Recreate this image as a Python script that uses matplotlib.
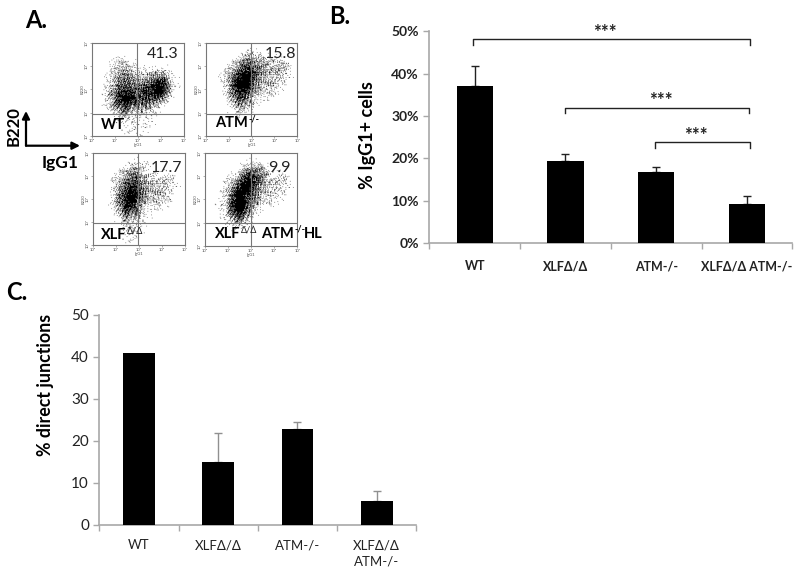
import numpy as np
import matplotlib
matplotlib.use('Agg')
import matplotlib.pyplot as plt

plt.rcParams['font.family'] = ['Lato', 'DejaVu Sans']

# panel B
groups_b = ['WT', 'XLFΔ/Δ', 'ATM-/-', 'XLFΔ/Δ ATM-/-']
igg1_pct = [37.0, 19.4, 16.7, 9.3]
igg1_err = [4.7, 1.6, 1.3, 1.7]
pct_ticks = [0, 10, 20, 30, 40, 50]
# start group, end group, level of the bracket
brackets = [(-0.015, 3.03, 48.1), (0.995, 3.02, 32.0), (1.985, 3.03, 23.8)]
star_x = [1.44, 2.05, 2.44]

# panel C
groups_c = ['WT', 'XLFΔ/Δ', 'ATM-/-', 'XLFΔ/Δ\nATM-/-']
direct_pct = [40.9, 14.9, 22.9, 5.7]
direct_err = [0, 6.9, 1.7, 2.3]
direct_ticks = [0, 10, 20, 30, 40, 50]

# panel A, darkness of the dot clouds read by eye, one digit per cell, top row first
wt_cloud = ['0000000000000000',
            '0000000000000000',
            '0000110000000000',
            '0001231100000000',
            '0001343211111000',
            '0012455333455200',
            '0012566545688310',
            '0023677667899410',
            '0024788778898300',
            '0024899878775100',
            '0013788666532000',
            '0002565343210000',
            '0000232211100000',
            '0000111211100000',
            '0000011111000000',
            '0000001110000000']
atm_cloud = ['0000000000000000',
             '0000001210000000',
             '0000013432111000',
             '0000136654332210',
             '0001358875443320',
             '0012579975333310',
             '0012699964333210',
             '0012699953332100',
             '0001588742221000',
             '0000477521100000',
             '0000255310000000',
             '0000123100000000',
             '0000010000000000',
             '0000000000000000',
             '0000000000000000',
             '0000000000000000']
xlf_cloud = ['0000000000000000',
             '0000001100000000',
             '0000012321000000',
             '0000135532111000',
             '0001246743222200',
             '0001367854333210',
             '0001479864333210',
             '0001589963333100',
             '0001589852322100',
             '0001488731111000',
             '0000366521100000',
             '0000133310000000',
             '0000023210000000',
             '0000012110000000',
             '0000011100000000',
             '0000001000000000']
dko_cloud = ['0000000000000000',
             '0000000110000000',
             '0000002343100000',
             '0000015775321100',
             '0000248986332210',
             '0001369985332210',
             '0012599974322210',
             '0012699863222100',
             '0012799752211000',
             '0012799631000000',
             '0001688410000000',
             '0001355200000000',
             '0000122100000000',
             '0000000000000000',
             '0000000000000000',
             '0000000000000000']
gate_pct = ['41.3', '15.8', '17.7', '9.9']
decades = ['10⁰', '10¹', '10²', '10³', '10⁴']

W, H = 800, 583
fig = plt.figure(figsize=(W / 100, H / 100), dpi=100)


def px_axes(x0, y0, x1, y1):
    return fig.add_axes([x0 / W, 1 - y1 / H, (x1 - x0) / W, (y1 - y0) / H])


def px_text(x, y, s, **kw):
    kw.setdefault('ha', 'left')
    kw.setdefault('va', 'center')
    fig.text(x / W, 1 - y / H, s, **kw)


def speckle(cloud, n=150):
    # ordered dither of the darkness grid so the cloud reads as dots, no random numbers
    grid = (np.array([[int(c) for c in row] for row in cloud]) / 9.0) ** 1.3
    old = (np.arange(16) + 0.5) / 16
    new = (np.arange(n) + 0.5) / n
    fine = np.array([np.interp(new, old, row) for row in grid])
    fine = np.array([np.interp(new, old, col) for col in fine.T]).T
    ii, jj = np.mgrid[0:n, 0:n]
    thresh = (ii * 0.7548777 + jj * 0.5698403 + 0.6 * np.sin(2.1 * ii * jj)) % 1.0
    return fine > thresh


def flow_panel(box, cross, cloud, xlab, ylab):
    ax = px_axes(*box)
    ax.imshow(speckle(cloud), cmap='gray_r', vmin=0, vmax=1.0, extent=[0, 4, 0, 4], aspect='auto',
              interpolation='antialiased', zorder=0)
    ax.axvline(cross[0], color='#777777', lw=0.8)
    ax.axhline(cross[1], color='#777777', lw=0.8)
    ax.set_xlim(0, 4)
    ax.set_ylim(0, 4)
    ax.set_xticks(range(5), decades)
    ax.set_yticks(range(5), decades)
    ax.tick_params(length=1.5, width=0.4, color='#777777', labelsize=3, labelcolor='#555555', pad=1)
    plt.setp(ax.get_yticklabels(), rotation=90, va='center')
    ax.set_xlabel(xlab, fontsize=3, color='#555555', labelpad=0)
    ax.set_ylabel(ylab, fontsize=3, color='#555555', labelpad=0)
    for s in ax.spines.values():
        s.set_color('#777777')
        s.set_linewidth(0.8)


flow_panel((91.7, 43.3, 183.7, 135.7), (1.95, 0.96), wt_cloud, 'IgG1', 'B220')
flow_panel((205.7, 43.3, 297.3, 135.7), (1.96, 0.96), atm_cloud, 'IgG1', 'B220')
flow_panel((92.7, 152.7, 184.7, 245), (1.96, 0.97), xlf_cloud, 'IgG1', 'B220')
flow_panel((204.7, 153, 297.3, 245.7), (1.98, 0.97), dko_cloud, 'IgG1', 'B220')

num = dict(fontsize=11.5, color='#222222', ha='center')
px_text(163, 54, gate_pct[0], **num)
px_text(280, 54, gate_pct[1], **num)
px_text(166, 168, gate_pct[2], **num)
px_text(279, 168, gate_pct[3], **num)

lab = dict(fontsize=10.5, fontweight='bold', color='black')
px_text(101, 125, 'WT', **lab)
px_text(215, 123, 'ATM', **lab)
px_text(248, 119, '-/-', fontsize=6.5, fontweight='bold')
px_text(101, 235, 'XLF', **lab)
px_text(127, 231, 'Δ/Δ', fontsize=6.5, color='#222222')
px_text(215, 234, 'XLF', **lab)
px_text(241, 230, 'Δ/Δ', fontsize=6.5, color='#222222')
px_text(261, 234, 'ATM', **lab)
px_text(294, 229, '-/-', fontsize=6.5, fontweight='bold')
px_text(304, 234, 'HL', **lab)

# B220 / IgG1 arrows
arrow = dict(arrowstyle='-|>', color='black', lw=1.6, mutation_scale=11, shrinkA=0, shrinkB=0)
fig.add_artist(matplotlib.patches.FancyArrowPatch((26 / W, 1 - 145.7 / H), (80 / W, 1 - 145.7 / H),
                                                  transform=fig.transFigure, **arrow))
fig.add_artist(matplotlib.patches.FancyArrowPatch((26 / W, 1 - 145.7 / H), (26 / W, 1 - 111 / H),
                                                  transform=fig.transFigure, **arrow))
px_text(14, 126, 'B220', fontsize=12, fontweight='bold', rotation=90, ha='center')
px_text(60, 163, 'IgG1', fontsize=12.5, fontweight='bold', ha='center')

letter = dict(fontsize=17, fontweight='bold', color='black')
px_text(25, 21, 'A.', **letter)
px_text(329, 16, 'B.', **letter)
px_text(6, 293, 'C.', **letter)


def bar_axes(box, top):
    ax = px_axes(*box)
    ax.set_xlim(-0.5, 3.5)
    ax.set_ylim(0, top)
    for s in ('top', 'right'):
        ax.spines[s].set_visible(False)
    for s in ('left', 'bottom'):
        ax.spines[s].set_color('#a8a8a8')
        ax.spines[s].set_linewidth(1.2)
    ax.set_xticks(np.arange(-0.5, 4))
    ax.set_xticklabels([])
    ax.tick_params(axis='both', color='#a8a8a8', width=1.0, length=4.5, direction='out')
    return ax


# panel B
ax_b = bar_axes((429.3, 31.3, 792.3, 243), 50)
xb = np.arange(4)
ax_b.bar(xb, igg1_pct, width=0.4, color='black', zorder=3)
ax_b.errorbar(xb, igg1_pct, yerr=[[0] * 4, igg1_err], fmt='none', ecolor='#222222', elinewidth=1.0,
              capsize=3, capthick=1.0, zorder=2)
ax_b.set_yticks(pct_ticks, [f'{t}%' for t in pct_ticks])
ax_b.tick_params(axis='y', labelsize=10, pad=3)
for t in ax_b.get_yticklabels():
    t.set_fontweight('bold')
    t.set_color('#222222')
for i, g in enumerate(groups_b):
    ax_b.text(i, -5.5, g, ha='center', va='center', fontsize=9, fontweight='bold', color='#222222',
              clip_on=False)
drop = 1.25
for (x0, x1, y), sx in zip(brackets, star_x):
    ax_b.plot([x0, x0, x1, x1], [y - drop, y, y, y - drop], color='#222222', lw=1.0, clip_on=False, zorder=4)
    ax_b.text(sx, y + 1.6, '***', ha='center', va='center', fontsize=13.5, fontweight='bold', color='#222222')
px_text(367, 135, '% IgG1+ cells', fontsize=13, fontweight='bold', rotation=90, ha='center')

# panel C
ax_c = bar_axes((99.3, 315, 416.3, 524.7), 50)
ax_c.bar(xb, direct_pct, width=0.4, color='black', zorder=3)
ax_c.errorbar(xb[1:], direct_pct[1:], yerr=[[0] * 3, direct_err[1:]], fmt='none', ecolor='#909090',
              elinewidth=1.0, capsize=3, capthick=1.0, zorder=2)
ax_c.set_yticks(direct_ticks, [str(t) for t in direct_ticks])
ax_c.tick_params(axis='y', labelsize=11, labelcolor='#222222', pad=3)
for i, g in enumerate(groups_c):
    ax_c.text(i, -3.5, g, ha='center', va='top', fontsize=9.5, color='#222222', linespacing=1.4, clip_on=False)
px_text(46, 385, '% direct junctions', fontsize=12.8, fontweight='bold', rotation=90, ha='center')

fig.savefig('out.png', dpi=100)
